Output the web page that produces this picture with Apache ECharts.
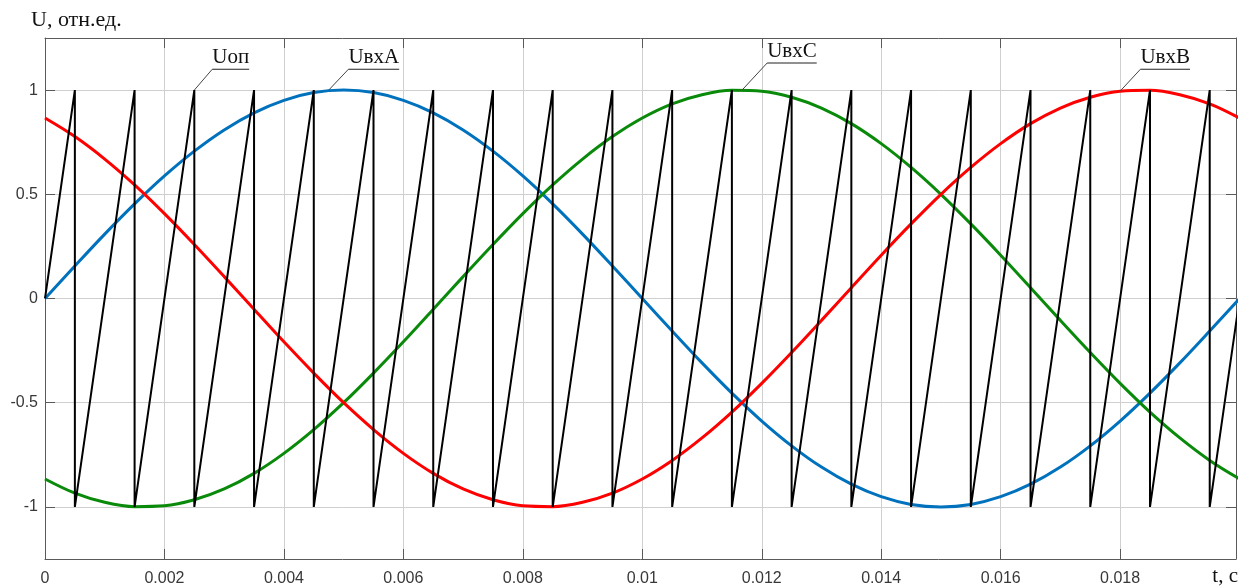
<!DOCTYPE html>
<html>
<head>
<meta charset="utf-8">
<script src="https://cdn.jsdelivr.net/npm/echarts@6/dist/echarts.min.js"></script>
<style>
html,body{margin:0;padding:0;background:#fff;}
#chart{width:1241px;height:587px;}
</style>
</head>
<body>
<div id="chart"></div>
<script>
// ---- data ----
const tSamples = [0,0.0005,0.001,0.0015,0.002,0.0025,0.003,0.0035,0.004,0.0045,0.005,0.0055,0.006,0.0065,0.007,0.0075,0.008,0.0085,0.009,0.0095,0.01,0.0105,0.011,0.0115,0.012,0.0125,0.013,0.0135,0.014,0.0145,0.015,0.0155,0.016,0.0165,0.017,0.0175,0.018,0.0185,0.019,0.0195,0.02];
const uA = [0,0.156,0.309,0.454,0.588,0.707,0.809,0.891,0.951,0.988,1,0.988,0.951,0.891,0.809,0.707,0.588,0.454,0.309,0.156,0,-0.156,-0.309,-0.454,-0.588,-0.707,-0.809,-0.891,-0.951,-0.988,-1,-0.988,-0.951,-0.891,-0.809,-0.707,-0.588,-0.454,-0.309,-0.156,0];
const uB = [0.866,0.777,0.669,0.545,0.407,0.259,0.105,-0.052,-0.208,-0.358,-0.5,-0.629,-0.743,-0.839,-0.914,-0.966,-0.995,-0.999,-0.978,-0.934,-0.866,-0.777,-0.669,-0.545,-0.407,-0.259,-0.105,0.052,0.208,0.358,0.5,0.629,0.743,0.839,0.914,0.966,0.995,0.999,0.978,0.934,0.866];
const uC = [-0.866,-0.934,-0.978,-0.999,-0.995,-0.966,-0.914,-0.839,-0.743,-0.629,-0.5,-0.358,-0.208,-0.052,0.105,0.259,0.407,0.545,0.669,0.777,0.866,0.934,0.978,0.999,0.995,0.966,0.914,0.839,0.743,0.629,0.5,0.358,0.208,0.052,-0.105,-0.259,-0.407,-0.545,-0.669,-0.777,-0.866];
const sawT = [0,0.0005,0.0005,0.0015,0.0015,0.0025,0.0025,0.0035,0.0035,0.0045,0.0045,0.0055,0.0055,0.0065,0.0065,0.0075,0.0075,0.0085,0.0085,0.0095,0.0095,0.0105,0.0105,0.0115,0.0115,0.0125,0.0125,0.0135,0.0135,0.0145,0.0145,0.0155,0.0155,0.0165,0.0165,0.0175,0.0175,0.0185,0.0185,0.0195,0.0195,0.02];
const sawV = [0,1,-1,1,-1,1,-1,1,-1,1,-1,1,-1,1,-1,1,-1,1,-1,1,-1,1,-1,1,-1,1,-1,1,-1,1,-1,1,-1,1,-1,1,-1,1,-1,1,-1,0];
const yTicks = [-1,-0.5,0,0.5,1];
const xMin = 0, xMax = 0.01994, xStep = 0.002;
const yMin = -1.25, yMax = 1.25;
const yTitle = 'U, отн.ед.';
const xTitle = 't, c';
// annotations: label, anchor [t,u], label start [t,u]
const annLabels = ['Uоп','UвхA','UвхC','UвхB'];
const annAnchor = [[0.0025,1],[0.00475,1],[0.01167,1],[0.018,0.995]];
const annText = [[0.0028,1.10],[0.00508,1.10],[0.01209,1.13],[0.01834,1.10]];

// ---- chart ----
const pair = (xs, ys) => xs.map((x,i)=>[x, ys[i]]);
const chart = echarts.init(document.getElementById('chart'), null, {renderer:'canvas'});
const frameColor = '#5a5a5a';
const gridColor = '#cfcfcf';
const labelFont = {fontFamily:'Liberation Sans, Arial, sans-serif', fontSize:16, color:'#383838'};
const xFmt = v => String(parseFloat(v.toFixed(4)));
function xAx(pos, showLabel){
  return {type:'value', position:pos, min:xMin, max:xMax, interval:xStep,
    axisLine:{show:true, onZero:false, lineStyle:{color:frameColor, width:1}},
    axisTick:{show:true, inside:true, length:10, lineStyle:{color:frameColor}},
    axisLabel:Object.assign({show:showLabel, margin:12, formatter:xFmt, showMaxLabel:false}, labelFont),
    splitLine:{show:showLabel, lineStyle:{color:gridColor, width:1}}};
}
function yAx(pos, showLabel){
  return {type:'value', position:pos, min:yMin, max:yMax,
    axisLine:{show:true, onZero:false, lineStyle:{color:frameColor, width:1}},
    axisTick:{show:true, inside:true, length:10, customValues:yTicks, lineStyle:{color:frameColor}},
    axisLabel:Object.assign({show:showLabel, margin:7, customValues:yTicks}, labelFont),
    splitLine:{show:showLabel, lineStyle:{color:gridColor, width:1}}};
}
const lineS = (data, color, width, smooth) => ({type:'line', data, xAxisIndex:0, yAxisIndex:0,
  showSymbol:false, smooth:smooth, lineStyle:{color, width}, itemStyle:{color}, silent:true, animation:false, clip:true});

chart.setOption({
  animation:false,
  grid:{left:45, right:5, top:38, bottom:26, containLabel:false},
  xAxis:[xAx('bottom', true), xAx('top', false)],
  yAxis:[yAx('left', true), yAx('right', false)],
  series:[
    lineS(pair(tSamples,uA), '#0072BD', 3, 0.333),
    lineS(pair(tSamples,uC), '#0a8a0a', 3, 0.333),
    lineS(pair(tSamples,uB), '#ff0000', 3, 0.333),
    lineS(pair(sawT,sawV), '#000000', 2, false)
  ]
});

// annotations placed through the chart's own scales
const annFont = '21px "Liberation Serif", "Times New Roman", serif';
const ctx = document.createElement('canvas').getContext('2d');
ctx.font = annFont;
const graphics = [];
annLabels.forEach((lab, i) => {
  const a = chart.convertToPixel({xAxisIndex:0, yAxisIndex:0}, annAnchor[i]);
  const s = chart.convertToPixel({xAxisIndex:0, yAxisIndex:0}, annText[i]);
  const w = ctx.measureText(lab).width;
  graphics.push({type:'line', silent:true, shape:{x1:a[0], y1:a[1], x2:s[0], y2:s[1]}, style:{stroke:'#444', lineWidth:1}, z:100});
  graphics.push({type:'line', silent:true, shape:{x1:s[0], y1:s[1], x2:s[0]+w, y2:s[1]}, style:{stroke:'#222', lineWidth:1.2}, z:100});
  graphics.push({type:'text', silent:true, x:s[0], y:s[1]-1, style:{text:lab, font:annFont, fill:'#111', textAlign:'left', textVerticalAlign:'bottom'}, z:100});
});
graphics.push({type:'text', silent:true, left:31, top:9, style:{text:yTitle, font:'22px "Liberation Serif", "Times New Roman", serif', fill:'#111'}});
graphics.push({type:'text', silent:true, right:3, bottom:0, style:{text:xTitle, font:'21px "Liberation Serif", "Times New Roman", serif', fill:'#111'}});
chart.setOption({graphic:graphics});
</script>
</body>
</html>
